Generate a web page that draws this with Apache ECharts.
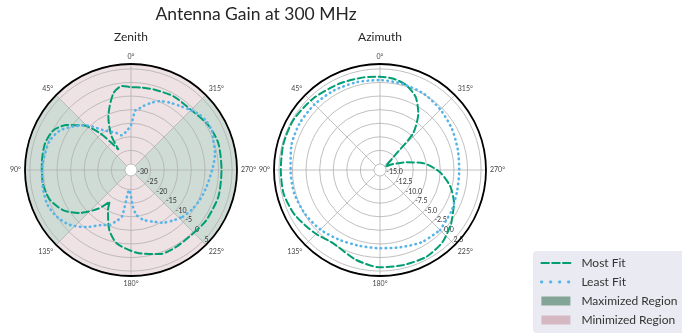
<!DOCTYPE html>
<html>
<head>
<meta charset="utf-8">
<script src="https://cdn.jsdelivr.net/npm/echarts@6/dist/echarts.min.js"></script>
<style>
  html, body { margin: 0; padding: 0; background: #ffffff; }
  #chart { width: 682px; height: 336px; }
</style>
</head>
<body>
<div id="chart"></div>
<script>
// Bearings in degrees: 0° at the top, increasing counter-clockwise. Gains in dB.
const zenithMostFitAngles = [0, 6, 13, 23, 26.6, 30, 31.5, 36.5, 40, 47, 55, 63, 73, 86, 99, 110, 121, 130, 140, 146, 150, 160, 169, 184, 199, 211, 225, 236, 253, 270, 287, 300, 313, 330, 344, 352];
const zenithMostFitGain   = [-1.7, -1.1, -3.3, -10.9, -14.4, -18.0, -23.5, -19.2, -14.6, -8.1, -3.4, -0.1, 0.9, 0.7, 0.6, -0.4, -3.3, -7.6, -13.7, -18.2, -15.3, -8.8, -4.7, -1.7, 0.5, 0.6, 0.5, 1.1, 1.4, 1.1, 1.4, 0.7, -0.8, -0.9, -1.4, -1.6];

const zenithLeastFitAngles = [0, 7, 15, 21, 35, 45, 53, 61, 70, 79, 90, 101, 112, 122, 132, 142, 151, 159, 163, 169, 175, 183, 187, 194, 203, 211, 220, 228, 237, 247, 258, 272, 281, 290, 296, 303, 309, 316, 323, 330, 337, 343, 349, 353, 356];
const zenithLeastFitGain   = [-15.7, -17.9, -19.0, -17.7, -14.3, -9.0, -5.55, -2.25, -0.45, 0.0, 0.6, 0.85, 1.1, 0.07, -2.0, -5.55, -9.0, -10.55, -12.35, -14.7, -24.8, -18.7, -15.5, -13.3, -11.55, -9.55, -8.0, -6.5, -5.5, -4.55, -3.7, -2.05, -0.7, 0.0, 0.9, 0.8, 0.2, -1.3, -2.6, -3.6, -4.7, -6.3, -8.2, -9.6, -10.3];

const azimuthMostFitAngles = [0, 10, 25, 43, 60, 75, 90, 104, 118, 134, 147, 165, 180, 194, 208, 221, 233, 246, 257, 268, 279, 286, 294, 302, 315, 318, 326, 334, 343, 352];
const azimuthMostFitGain   = [1.05, 1.2, 1.45, 1.9, 2.3, 2.3, 2.15, 2.15, 1.6, 0.6, -0.1, 1.0, 1.8, 1.9, 2.0, 1.45, 0.3, -1.2, -2.85, -5.1, -8.05, -11.0, -13.4, -14.9, -11.8, -7.0, -3.5, -1.15, 0.25, 0.9];

const azimuthLeastFitAngles = [0, 15, 30, 45, 60, 75, 90, 105, 120, 135, 150, 165, 180, 195, 210, 225, 240, 255, 270, 285, 300, 315, 330, 345];
const azimuthLeastFitGain   = [0.44, 0.62, 0.8, 0.95, 0.99, 0.8, 0.35, 0.26, -0.11, -0.6, -1.25, -1.65, -1.71, -1.4, -0.76, -0.48, -0.94, -1.4, -1.53, -1.3, -0.85, -0.39, 0.07, 0.26];

// Shaded bearing sectors on the zenith plot [from, to]
const maximizedSectors = [[45, 135], [225, 315]];
const minimizedSectors = [[315, 405], [135, 225]];

// Radial tick labels
const zenithRadialTicks  = [-30, -25, -20, -15, -10, -5, 0, 5];
const azimuthRadialTicks = [-15, -12.5, -10, -7.5, -5, -2.5, 0, 2.5];
const angleTicks = [0, 45, 90, 135, 180, 225, 270, 315];

const zenithRadialMax = 6.8;
const azimuthRadialMax = 3.4;

// Radial labels run along the 225° spoke, so the angle axis starts there.
const RLABEL_BEARING = 225;
const toAxisAngle = b => (((b - RLABEL_BEARING) % 360) + 360) % 360;

function closedLoop(angles, gains) {
  const pts = angles.map((a, i) => [gains[i], toAxisAngle(a)]);
  pts.sort((p, q) => p[1] - q[1]);
  pts.push([pts[0][0], pts[0][1] + 360]);
  return pts;
}

const GREEN = '#029e73';
const BLUE = '#56b4e9';
const FONT = 'Lato';
const CENTERS = [[131, 170], [380, 170]];
const OUTER_R = 106;
const INNER_R = 6;

function angleAxisFor(idx) {
  return {
    polarIndex: idx,
    type: 'value',
    min: 0, max: 360,
    interval: angleTicks[1] - angleTicks[0],
    startAngle: -45,
    clockwise: false,
    z: 2,
    axisLine: { show: false },
    axisTick: { show: false },
    axisLabel: {
      margin: 4, fontSize: 7, color: '#444444', fontFamily: FONT,
      formatter: v => ((v + RLABEL_BEARING) % 360) + '°'
    },
    splitLine: { lineStyle: { color: '#b0b0b0', width: 0.8 } }
  };
}

// Outer black rim, drawn on a full-disc polar so no inner ring appears
function rimAngleAxisFor(idx) {
  return {
    polarIndex: idx, type: 'value', min: 0, max: 360, startAngle: -45, clockwise: false, z: 3,
    axisLine: { lineStyle: { color: '#000000', width: 1.8 } },
    axisTick: { show: false }, axisLabel: { show: false }, splitLine: { show: false }
  };
}
function rimRadiusAxisFor(idx) {
  return {
    polarIndex: idx, type: 'value', min: 0, max: 1, z: 3,
    axisLine: { show: false }, axisTick: { show: false }, axisLabel: { show: false }, splitLine: { show: false }
  };
}

function radiusAxisFor(idx, ticks, max, digits) {
  return {
    polarIndex: idx,
    type: 'value',
    min: ticks[0], max: max,
    interval: ticks[1] - ticks[0],
    z: 2,
    axisLine: { show: false },
    axisTick: { show: false },
    axisLabel: {
      showMaxLabel: false,
      fontSize: 7, color: '#333333', fontFamily: FONT, margin: 3,
      formatter: v => v.toFixed(digits)
    },
    splitLine: { lineStyle: { color: '#b0b0b0', width: 0.8 } }
  };
}

function sectorRenderer(params, api) {
  const cs = params.coordSys;
  const screenAngle = b => {
    const p = api.coord([zenithRadialMax, toAxisAngle(b)]);
    return Math.atan2(p[1] - cs.cy, p[0] - cs.cx);
  };
  const s = screenAngle(api.value(1));
  let e = screenAngle(api.value(0));
  while (e <= s) e += Math.PI * 2;
  return {
    type: 'sector',
    shape: { cx: cs.cx, cy: cs.cy, r0: cs.r0, r: cs.r, startAngle: s, endAngle: e, clockwise: true },
    style: { fill: api.visual('color') }
  };
}

const MOST_DASH = [7, 3.5];
const LEAST_DASH = [0.5, 4.5];

function lineSeries(name, idx, angles, gains, color, dash, width) {
  return {
    type: 'line', name, coordinateSystem: 'polar', polarIndex: idx,
    data: closedLoop(angles, gains),
    symbol: 'none', showSymbol: false, smooth: 0.25, clip: false, z: 4,
    lineStyle: { color, width, type: dash, cap: 'round' },
    itemStyle: { color },
    silent: true
  };
}

const chart = echarts.init(document.getElementById('chart'), null, { renderer: 'canvas' });

chart.setOption({
  animation: false,
  backgroundColor: '#ffffff',
  textStyle: { fontFamily: FONT },
  title: [
    { text: 'Antenna Gain at 300 MHz', left: 256, top: 5, textAlign: 'center', padding: 0,
      textStyle: { fontFamily: FONT, fontSize: 17.5, fontWeight: 'normal', color: '#262626' } },
    { text: 'Zenith', left: 131, top: 31, textAlign: 'center', padding: 0,
      textStyle: { fontFamily: FONT, fontSize: 12, fontWeight: 'normal', color: '#262626' } },
    { text: 'Azimuth', left: 380, top: 31, textAlign: 'center', padding: 0,
      textStyle: { fontFamily: FONT, fontSize: 12, fontWeight: 'normal', color: '#262626' } }
  ],
  legend: {
    orient: 'vertical', left: 533, top: 251,
    backgroundColor: '#eaeaf2', borderRadius: 4,
    padding: [6, 8, 7, 7],
    itemWidth: 29, itemHeight: 9, itemGap: 7,
    selectedMode: false,
    textStyle: { fontFamily: FONT, fontSize: 12, color: '#333333', padding: [0, 0, 0, 6] },
    data: [
      { name: 'Most Fit', itemStyle: { opacity: 0 },
        lineStyle: { type: [7.5, 3.3], width: 2 } },
      { name: 'Least Fit', itemStyle: { opacity: 0 },
        lineStyle: { type: [0.5, 8.5], width: 2.8, cap: 'round' } },
      { name: 'Maximized Region', icon: 'rect', itemStyle: { color: '#83a597' } },
      { name: 'Minimized Region', icon: 'rect', itemStyle: { color: '#d6b8c2' } }
    ]
  },
  polar: [
    { center: CENTERS[0], radius: [INNER_R, OUTER_R] },
    { center: CENTERS[1], radius: [INNER_R, OUTER_R] },
    { center: CENTERS[0], radius: [0, OUTER_R] },
    { center: CENTERS[1], radius: [0, OUTER_R] }
  ],
  angleAxis: [angleAxisFor(0), angleAxisFor(1), rimAngleAxisFor(2), rimAngleAxisFor(3)],
  radiusAxis: [
    radiusAxisFor(0, zenithRadialTicks, zenithRadialMax, 0),
    radiusAxisFor(1, azimuthRadialTicks, azimuthRadialMax, 1),
    rimRadiusAxisFor(2),
    rimRadiusAxisFor(3)
  ],
  series: [
    { type: 'custom', name: 'Maximized Region', coordinateSystem: 'polar', polarIndex: 0,
      data: maximizedSectors, renderItem: sectorRenderer, z: 1, silent: true,
      itemStyle: { color: 'rgba(15,80,45,0.2)' } },
    { type: 'custom', name: 'Minimized Region', coordinateSystem: 'polar', polarIndex: 0,
      data: minimizedSectors, renderItem: sectorRenderer, z: 1, silent: true,
      itemStyle: { color: 'rgba(165,95,110,0.18)' } },
    lineSeries('Most Fit', 0, zenithMostFitAngles, zenithMostFitGain, GREEN, MOST_DASH, 2),
    lineSeries('Least Fit', 0, zenithLeastFitAngles, zenithLeastFitGain, BLUE, LEAST_DASH, 2.6),
    lineSeries('Most Fit', 1, azimuthMostFitAngles, azimuthMostFitGain, GREEN, MOST_DASH, 2),
    lineSeries('Least Fit', 1, azimuthLeastFitAngles, azimuthLeastFitGain, BLUE, LEAST_DASH, 2.6)
  ]
});
</script>
</body>
</html>
